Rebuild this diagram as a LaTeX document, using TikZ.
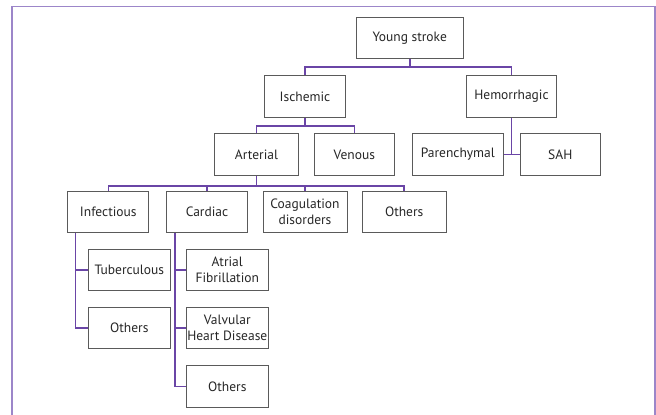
\documentclass[tikz,border=0pt]{standalone}
\usepackage{fontspec}
\setmainfont{PT Sans}
\definecolor{framec}{HTML}{9C86C9}
\definecolor{connc}{HTML}{6A45A6}
\definecolor{boxc}{HTML}{5A5A5A}
\definecolor{txtc}{HTML}{262626}
\tikzset{
  bx/.style={draw=boxc, line width=1pt, minimum height=41.5pt, inner sep=0pt,
    text=txtc, font=\fontsize{13.5}{16}\selectfont, align=center},
  conn/.style={draw=connc, line width=1.6pt},
}
\begin{document}
\begin{tikzpicture}[x=1pt,y=-1pt]
\useasboundingbox (0,0) rectangle (656,415);
\begin{scope}
\clip (0,0) rectangle (656,415);
\draw[framec, line width=1.6pt] (12,430) -- (12,6.3) -- (655,6.3) -- (655,430);
\end{scope}
% nodes
\node[bx, minimum width=106.7pt] (young) at (409.7,38.2) {Young stroke};
\node[bx, minimum width=81.4pt] (isch) at (305,96.4) {Ischemic};
\node[bx, minimum width=90pt] (hem) at (511.5,96.5) {Hemorrhagic};
\node[bx, minimum width=83.6pt] (art) at (256.5,154.5) {Arterial};
\node[bx, minimum width=80pt] (ven) at (354.3,154.5) {Venous};
\node[bx, minimum width=91pt] (par) at (457.8,154.5) {Parenchymal};
\node[bx, minimum width=80pt] (sah) at (560.3,154.5) {SAH};
\node[bx, minimum width=80.7pt] (inf) at (108.3,212) {Infectious};
\node[bx, minimum width=81.4pt] (card) at (207,212) {Cardiac};
\node[bx, minimum width=84pt] (coag) at (305,212) {Coagulation\\disorders};
\node[bx, minimum width=84.3pt] (oth) at (404.2,212) {Others};
\node[bx, minimum width=82pt] (tub) at (129.3,269.9) {Tuberculous};
\node[bx, minimum width=82pt] (othi) at (129.3,328.2) {Others};
\node[bx, minimum width=82pt] (atr) at (227.3,269.9) {Atrial\\Fibrillation};
\node[bx, minimum width=82pt] (valv) at (227.3,328.2) {Valvular\\Heart Disease};
\node[bx, minimum width=82pt] (othc) at (227.3,386.4) {Others};
% connectors
\draw[conn] (young.south) -- ++(0,7.7) coordinate (y1);
\draw[conn] (isch.north) |- (y1) -| (hem.north);
\draw[conn] (isch.south) -- ++(0,8.3) coordinate (i1);
\draw[conn] (art.north) |- (i1) -| (ven.north);
\draw[conn] (hem.south) -- (hem.south |- par.east);
\draw[conn] (par.east) -- (sah.west);
\draw[conn] (art.south) -- ++(0,10) coordinate (a1);
\draw[conn] (inf.north) |- (a1) -| (oth.north);
\draw[conn] (card.north) -- (card.north |- a1);
\draw[conn] (coag.north) -- (coag.north |- a1);
\draw[conn] ([xshift=8pt]inf.south west) coordinate (ib) |- (othi.west);
\draw[conn] (tub.west) -- (ib |- tub.west);
\draw[conn] ([xshift=9pt]card.south west) coordinate (cb) |- (othc.west);
\draw[conn] (atr.west) -- (cb |- atr.west);
\draw[conn] (valv.west) -- (cb |- valv.west);
\end{tikzpicture}
\end{document}
